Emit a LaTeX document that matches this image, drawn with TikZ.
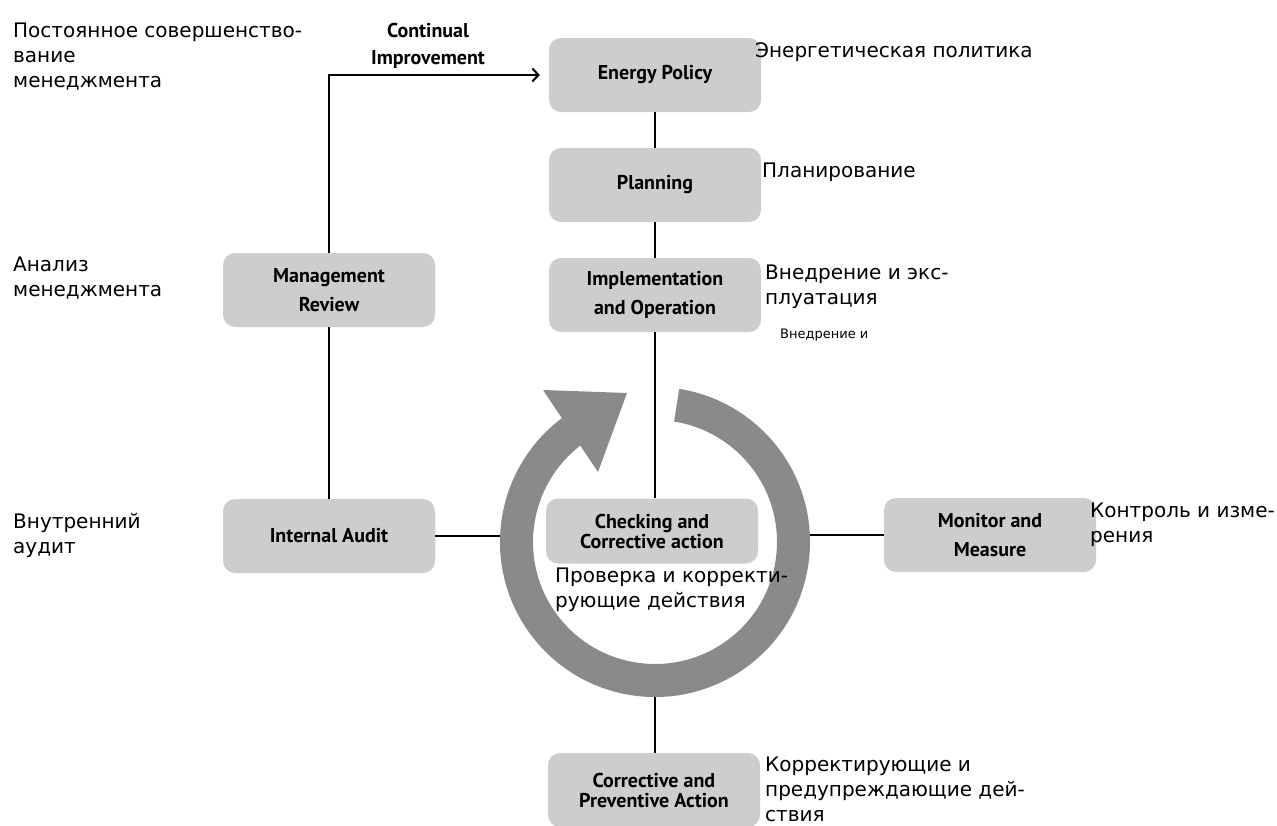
\documentclass[tikz,border=0pt]{standalone}
\usepackage{fontspec}
\usepackage{tikz}
\usetikzlibrary{arrows.meta}
\setmainfont{DejaVu Sans}
\newfontfamily\engfont{PT Sans}
\definecolor{boxgray}{RGB}{205,205,205}
\definecolor{ringgray}{RGB}{139,137,140}
\tikzstyle{arrow} = [-{Straight Barb[length=6pt,width=13pt,line width=2pt]},line width=2pt]
\tikzstyle{link} = [line width=2pt]
\tikzstyle{box} = [fill=boxgray,rounded corners=12pt,minimum width=212pt,minimum height=74pt,align=center,font=\engfont\bfseries\fontsize{20}{29}\selectfont]
\tikzstyle{tightbox} = [box,font=\engfont\bfseries\fontsize{20}{20}\selectfont]
\tikzstyle{ru} = [anchor=north west,align=left,inner sep=0pt,font=\fontsize{20}{25}\selectfont]

\begin{document}
\begin{tikzpicture}[x=1pt,y=-1pt]
        \useasboundingbox (0,0) rectangle (1277,825);
        \node[box] at (655,75) (pol) {Energy Policy};
        \node[box] at (655,185) (plan) {Planning};
        \node[box] at (655,295) (impl) {Implementation\\and Operation};
        \node[tightbox, minimum height=65pt] at (652,531) (chk) {Checking and\\Corrective action};
        \node[box] at (990,535) (mon) {Monitor and\\Measure};
        \node[box] at (329,536) (aud) {Internal Audit};
        \node[box] at (329,290) (rev) {Management\\Review};
        \node[tightbox] at (654,790) (cpa) {Corrective and\\Preventive Action};
        \node[align=center, font=\engfont\bfseries\fontsize{20}{27}\selectfont] at (428,46) (ci) {Continual\\Improvement};

        % ends of the links on the ring
        \coordinate (rl) at (505,536);
        \coordinate (rr) at (805,535);
        \coordinate (rb) at (655,692);

        \draw[link] (pol) -- (plan);
        \draw[link] (plan) -- (impl);
        \draw[link] (impl) -- (impl |- chk.north);
        \draw[link] (rb) -- (rb |- cpa.north);
        \draw[link] (aud.east) -- (rl);
        \draw[link] (mon.west) -- (rr);
        \draw[link] (aud) -- (rev);
        \draw[arrow, shorten >=9pt] (rev.north) |- (pol.west);

        % cycle ring
        \fill[ringgray] ([shift={(655,542)}]81:155pt) arc[start angle=81, end angle=-233, radius=155pt]
            -- ([shift={(655,542)}]-233:122pt) arc[start angle=-233, end angle=81, radius=122pt] -- cycle;
        \fill[ringgray] (543,390) -- (627,393) -- (598,472) -- cycle;

        \node[ru] at (13,23) (l1) {Постоянное совершенство-\\вание\\менеджмента};
        \node[ru] at (13,257) (l2) {Анализ\\менеджмента};
        \node[ru] at (13,513) (l3) {Внутренний\\аудит};
        \node[ru] at (755,42) (l4) {Энергетическая политика};
        \node[ru] at (762,163) (l5) {Планирование};
        \node[ru] at (765,265) (l6) {Внедрение и экс-\\плуатация};
        \node[ru, font=\fontsize{13}{16}\selectfont] at (780,329) (l7) {Внедрение и};
        \node[ru] at (1090,503) (l8) {Контроль и изме-\\рения};
        \node[ru] at (555,568) (l9) {Проверка и корректи-\\рующие действия};
        \node[ru] at (765,757) (l10) {Корректирующие и\\предупреждающие дей-\\ствия};

    \end{tikzpicture}
\end{document}
